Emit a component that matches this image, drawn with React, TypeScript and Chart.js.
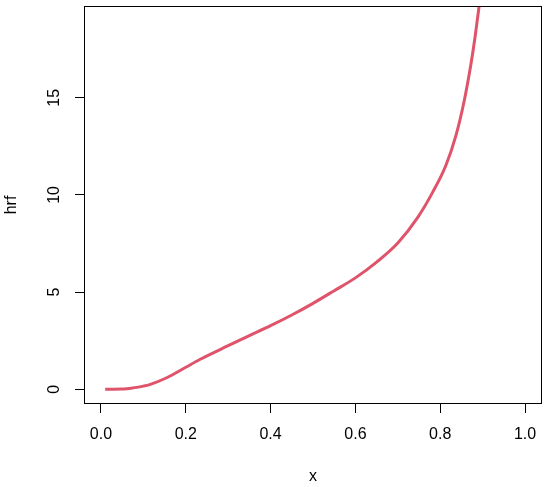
import React, { useEffect, useRef } from "react";
import { Chart, registerables } from "chart.js";

Chart.register(...registerables);

const xValues = [0.01, 0.05, 0.076, 0.1, 0.115, 0.155, 0.2, 0.233, 0.3, 0.35, 0.4, 0.45, 0.5, 0.55, 0.6, 0.65, 0.7, 0.747, 0.782, 0.813, 0.837, 0.856, 0.872, 0.882, 0.892, 0.9];
const hrfValues = [0.0, 0.01, 0.07, 0.16, 0.24, 0.59, 1.13, 1.53, 2.24, 2.76, 3.27, 3.82, 4.42, 5.07, 5.73, 6.54, 7.52, 8.84, 10.13, 11.5, 13.05, 14.78, 16.67, 18.1, 19.76, 21.2];
const xTicks = [0, 0.2, 0.4, 0.6, 0.8, 1.0];
const yTicks = [0, 5, 10, 15];
const xTitle = "x";
const yTitle = "hrf";

const FONT = "'Liberation Sans', Arial, Helvetica, sans-serif";
const LINE_COLOR = "#DF536B";

const boxPlugin = {
  id: "rbox",
  afterDraw(chart: any) {
    const { ctx, chartArea } = chart;
    ctx.save();
    ctx.strokeStyle = "#000";
    ctx.lineWidth = 1;
    const l = Math.round(chartArea.left) + 0.5;
    const t = Math.round(chartArea.top) + 0.5;
    const r = Math.round(chartArea.right) - 0.5;
    const b = Math.round(chartArea.bottom) - 0.5;
    ctx.strokeRect(l, t, r - l, b - t);
    ctx.restore();
  },
};

export default function App() {
  const ref = useRef<HTMLCanvasElement | null>(null);
  useEffect(() => {
    if (!ref.current) return;
    const data = xValues.map((x, i) => ({ x, y: hrfValues[i] }));
    const chart = new Chart(ref.current, {
      type: "line",
      data: {
        datasets: [
          {
            data,
            borderColor: LINE_COLOR,
            borderWidth: 3,
            pointRadius: 0,
            fill: false,
            cubicInterpolationMode: "monotone",
          },
        ],
      },
      options: {
        animation: false,
        responsive: false,
        devicePixelRatio: 1,
        layout: { padding: { top: 6, right: 8, left: 0, bottom: 0 } },
        plugins: { legend: { display: false }, tooltip: { enabled: false } },
        scales: {
          x: {
            type: "linear",
            min: -0.04,
            max: 1.04,
            afterBuildTicks: (s: any) => {
              s.ticks = xTicks.map((v) => ({ value: v }));
            },
            afterFit: (s: any) => {
              s.height = 83;
              s.paddingLeft = 0;
              s.paddingRight = 0;
            },
            border: { display: false },
            grid: { drawOnChartArea: false, drawTicks: true, tickLength: 9, color: "#000", lineWidth: 1 },
            ticks: {
              autoSkip: false,
              maxRotation: 0,
              color: "#000",
              padding: 12,
              font: { family: FONT, size: 16 },
              callback: (v: any) => Number(v).toFixed(1),
            },
            title: {
              display: true,
              text: xTitle,
              color: "#000",
              font: { family: FONT, size: 16 },
              padding: { top: 0, bottom: 1 },
            },
          },
          y: {
            type: "linear",
            min: -0.76,
            max: 19.72,
            afterBuildTicks: (s: any) => {
              s.ticks = yTicks.map((v) => ({ value: v }));
            },
            afterFit: (s: any) => {
              s.width = 84;
              s.paddingTop = 0;
              s.paddingBottom = 0;
            },
            border: { display: false },
            grid: { drawOnChartArea: false, drawTicks: true, tickLength: 9, color: "#000", lineWidth: 1 },
            ticks: {
              autoSkip: false,
              minRotation: 90,
              maxRotation: 90,
              crossAlign: "center",
              color: "#000",
              padding: 11.6,
              font: { family: FONT, size: 16 },
              callback: (v: any) => String(v),
            },
            title: {
              display: true,
              text: yTitle,
              color: "#000",
              font: { family: FONT, size: 16 },
              padding: { top: 1.6, bottom: 0 },
            },
          },
        },
      },
      plugins: [boxPlugin],
    } as any);
    return () => chart.destroy();
  }, []);
  return (
    <div style={{ position: "absolute", left: 0, top: 0, width: 550, height: 487, background: "#fff" }}>
      <canvas ref={ref} width={550} height={487} style={{ display: "block", width: 550, height: 487 }} />
    </div>
  );
}
